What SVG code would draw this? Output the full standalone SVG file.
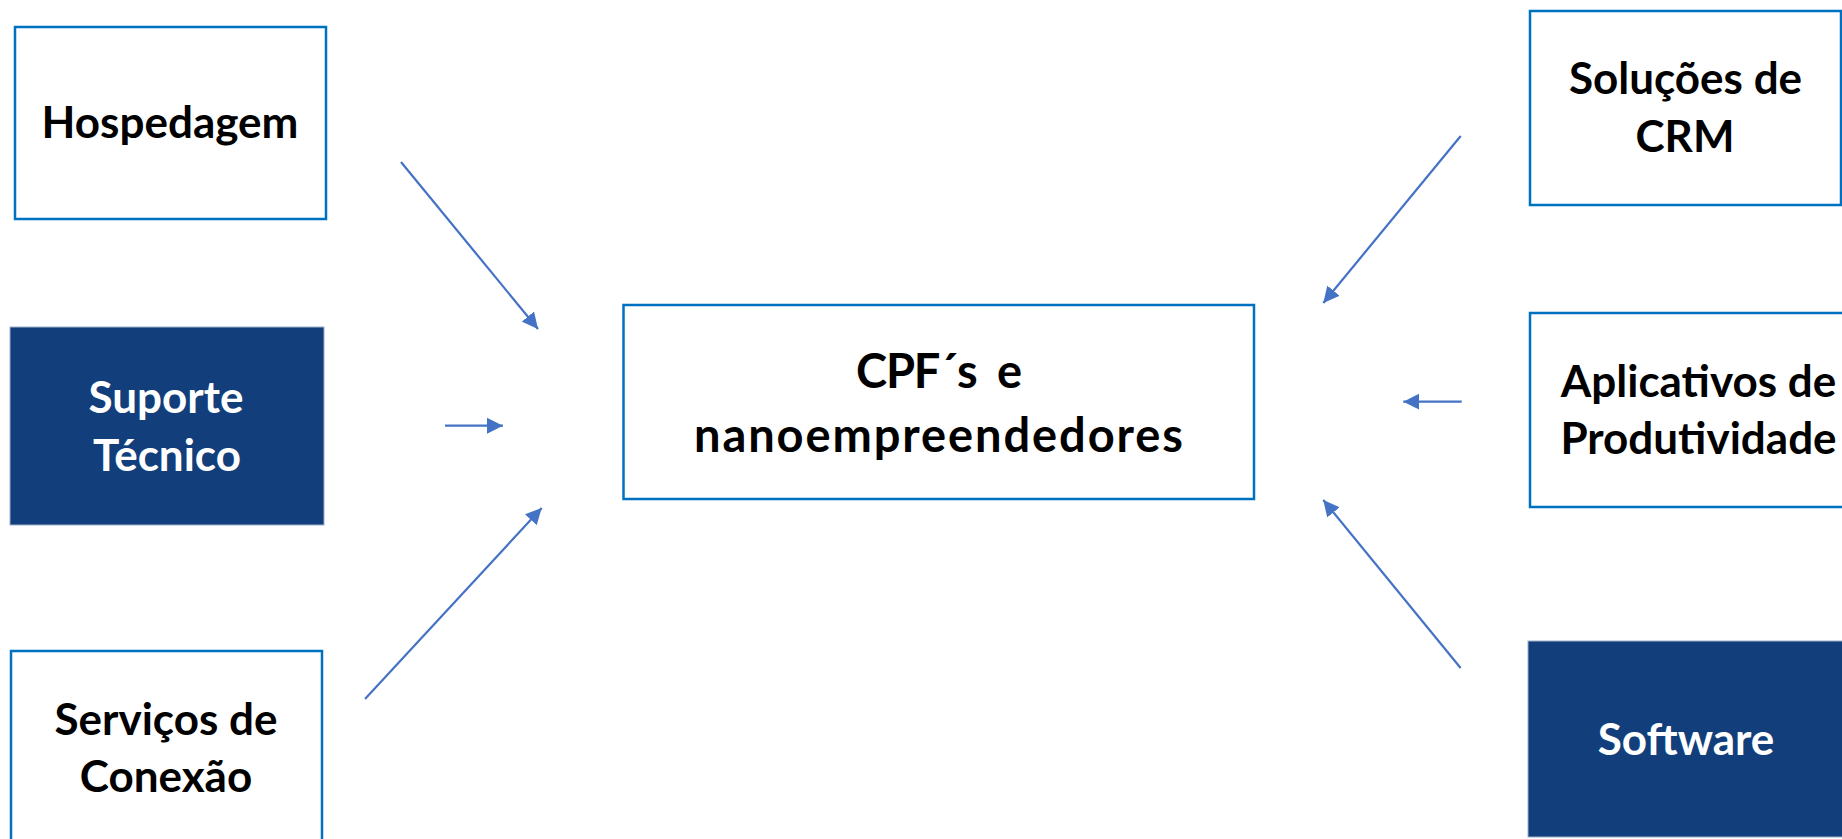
<svg xmlns="http://www.w3.org/2000/svg" width="1842" height="839" viewBox="0 0 1842 839">
<style>
  .box { fill: #ffffff; stroke: #0070C0; stroke-width: 2.5; }
  .dark { fill: #123F7B; stroke: #9DB0CC; stroke-width: 1; }
  .t { font-family: Lato, "Open Sans", "Liberation Sans", sans-serif; font-weight: 700; font-size: 44px; text-anchor: middle; fill: #000000; }
  .big { font-size: 47px; }
  .w { fill: #ffffff; }
  .conn { stroke: #4472C4; stroke-width: 2.2; fill: none; marker-end: url(#ah); }
</style>
<defs>
  <marker id="ah" markerUnits="userSpaceOnUse" markerWidth="17" markerHeight="17" viewBox="0 0 17 17" refX="16" refY="8.5" orient="auto">
    <path d="M0,0.5 L16,8.5 L0,16.5 z" fill="#4472C4"/>
  </marker>
</defs>
<rect width="1842" height="839" fill="#ffffff"/>
<g id="hospedagem">
  <rect class="box" x="15" y="27" width="311" height="192"/>
  <text class="t" x="170" y="137.5">Hospedagem</text>
</g>
<g id="suporte">
  <rect class="dark" x="10" y="327" width="314" height="198"/>
  <text class="t w" x="166" y="413">Suporte</text>
  <text class="t w" x="167" y="471">Técnico</text>
</g>
<g id="servicos">
  <rect class="box" x="11" y="651" width="311" height="210"/>
  <text class="t" x="166" y="735">Serviços de</text>
  <text class="t" x="166" y="792">Conexão</text>
</g>
<g id="centro">
  <rect class="box" x="623.5" y="305" width="630.5" height="194"/>
  <text class="t big" x="939" y="388" xml:space="preserve" textLength="166">CPF´s  e</text>
  <text class="t big" x="938.5" y="452" textLength="489">nanoempreendedores</text>
</g>
<g id="crm">
  <rect class="box" x="1530" y="11" width="311" height="194"/>
  <text class="t" x="1685.5" y="94.3">Soluções de</text>
  <text class="t" x="1685" y="151.7">CRM</text>
</g>
<g id="aplicativos">
  <rect class="box" x="1530" y="313" width="330" height="194"/>
  <text class="t" x="1698.5" y="397.3">Aplicativos de</text>
  <text class="t" x="1698.5" y="454">Produtividade</text>
</g>
<g id="software">
  <rect class="dark" x="1528" y="641" width="330" height="196"/>
  <text class="t w" x="1686" y="755">Software</text>
</g>
<g id="connectors">
  <line class="conn" x1="401" y1="162" x2="538" y2="329"/>
  <line class="conn" x1="445" y1="425.7" x2="503" y2="425.7"/>
  <line class="conn" x1="365" y1="699" x2="541.7" y2="508"/>
  <line class="conn" x1="1460.7" y1="136" x2="1323.3" y2="303"/>
  <line class="conn" x1="1461.7" y1="401.7" x2="1403.3" y2="401.7"/>
  <line class="conn" x1="1460.6" y1="668" x2="1323.3" y2="500"/>
</g>
</svg>
